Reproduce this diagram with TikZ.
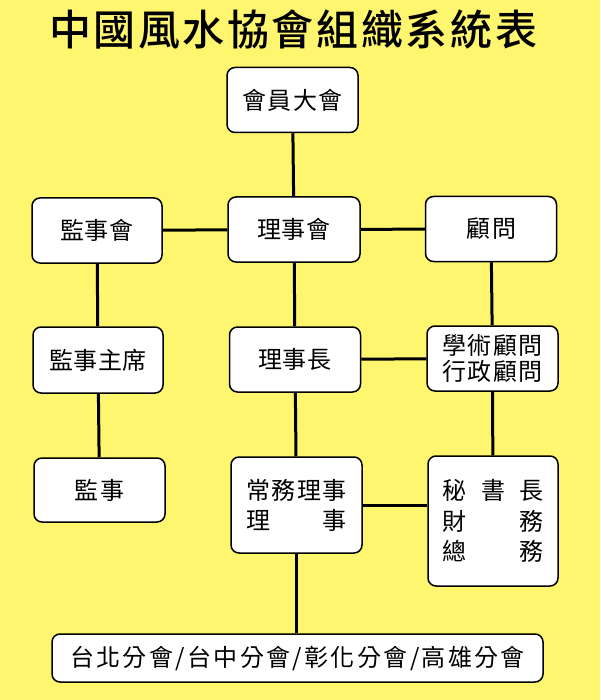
\documentclass[tikz,border=0pt]{standalone}
\usepackage{fontspec}
\newfontfamily\cjk{Noto Sans CJK TC}
\newfontfamily\cjkbold{Noto Sans CJK TC Medium}
\definecolor{bgyellow}{RGB}{255,246,112}
\tikzset{
  orgbox/.style={draw=black, line width=1.5pt, fill=white, rounded corners=8pt,
    inner sep=0pt, font=\cjk\fontsize{24pt}{30pt}\selectfont},
  conn/.style={draw=black, line width=3pt},
  titletext/.style={inner sep=0pt, font=\cjkbold\fontsize{42pt}{44pt}\selectfont}
}
\begin{document}
\begin{tikzpicture}[x=1pt,y=-1pt]
\fill[bgyellow] (0,0) rectangle (600,700);
\useasboundingbox (0,0) rectangle (600,700);

\node[titletext] (title) at (293,30) {\hbox to 488pt{中\hfil 國\hfil 風\hfil 水\hfil 協\hfil 會\hfil 組\hfil 織\hfil 系\hfil 統\hfil 表}};

\node[orgbox, minimum width=131pt, minimum height=65pt] (A) at (292.5,100) {\hbox to 101pt{會\hfil 員\hfil 大\hfil 會}};
\node[orgbox, minimum width=130pt, minimum height=65pt] (B) at (97,230.5) {\hbox to 73pt{監\hfil 事\hfil 會}};
\node[orgbox, minimum width=132pt, minimum height=65pt] (C) at (294,229.5) {\hbox to 73pt{理\hfil 事\hfil 會}};
\node[orgbox, minimum width=131pt, minimum height=65pt] (D) at (491,229) {\hbox to 50pt{顧\hfil 問}};
\node[orgbox, minimum width=130pt, minimum height=66pt] (E) at (98,360) {\hbox to 98pt{監\hfil 事\hfil 主\hfil 席}};
\node[orgbox, minimum width=131pt, minimum height=65pt] (F) at (295,359.5) {\hbox to 74pt{理\hfil 事\hfil 長}};
\node[orgbox, minimum width=131pt, minimum height=65pt] (G) at (492.5,358.5) {\vbox{\baselineskip=26pt
  \hbox to 100pt{學\hfil 術\hfil 顧\hfil 問}
  \hbox to 100pt{行\hfil 政\hfil 顧\hfil 問}}};
\node[orgbox, minimum width=131pt, minimum height=64pt] (H) at (99.5,490) {\hbox to 50pt{監\hfil 事}};
\node[orgbox, minimum width=131pt, minimum height=96pt] (I) at (296.5,505) {\vbox{\baselineskip=30pt
  \hbox to 100pt{常\hfil 務\hfil 理\hfil 事}
  \hbox to 100pt{理\hfil 事}}};
\node[orgbox, minimum width=130pt, minimum height=130pt] (J) at (493,521) {\vbox{\baselineskip=30.5pt
  \hbox to 101pt{秘\hfil 書\hfil 長}
  \hbox to 101pt{財\hfil 務}
  \hbox to 101pt{總\hfil 務}}};
\node[orgbox, minimum width=491pt, minimum height=48pt] (K) at (297.5,658) {\hbox to 455pt{台\hfil 北\hfil 分\hfil 會\hfil /\hfil 台\hfil 中\hfil 分\hfil 會\hfil /\hfil 彰\hfil 化\hfil 分\hfil 會\hfil /\hfil 高\hfil 雄\hfil 分\hfil 會}};

\draw[conn] (A) -- (C);
\draw[conn] (C) -- (F);
\draw[conn] (F) -- (I);
\draw[conn] (I.south) -- (I.south |- K.north);
\draw[conn] (B) -- (C);
\draw[conn] (C) -- (D);
\draw[conn] (B) -- (E);
\draw[conn] (E) -- (H);
\draw[conn] (D) -- (G);
\draw[conn] (G) -- (J);
\draw[conn] (F) -- (G);
\draw[conn] (I.east) -- (I.east -| J.west);
\end{tikzpicture}
\end{document}
